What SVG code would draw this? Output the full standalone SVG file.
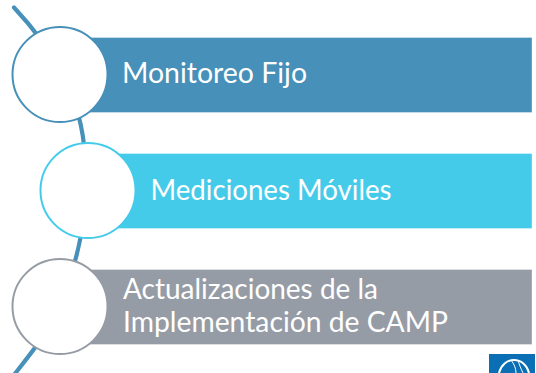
<svg xmlns="http://www.w3.org/2000/svg" width="536" height="373" viewBox="0 0 536 373">
<style>
.bar{stroke-width:1;stroke:#fff;stroke-opacity:.35}
.c{fill:#fff;stroke-width:2}
.t{font-family:"Lato","Liberation Sans",sans-serif;font-size:28.5px;fill:#fff}
.line{fill:none;stroke:#4690b9;stroke-width:4.2;stroke-linecap:round}
</style>
<rect width="536" height="373" fill="#fff"/>
<g id="connectors">
<path class="line" d="M14 7.5C50 46 78 90 84 145C88 190 88 235 60 306C50 330 32 352 14 375"/>
</g>
<g id="node1">
<rect class="bar" x="60" y="37.5" width="472" height="75" fill="#4690b9"/>
<circle class="c" cx="60" cy="74.5" r="47.5" stroke="#4690b9"/>
<text class="t" x="122" y="83" textLength="185" lengthAdjust="spacingAndGlyphs">Monitoreo Fijo</text>
</g>
<g id="node2">
<rect class="bar" x="88" y="153.5" width="444" height="75" fill="#45cbea"/>
<circle class="c" cx="88" cy="190.5" r="47.5" stroke="#45cbea"/>
<text class="t" x="150.500" y="200" textLength="241" lengthAdjust="spacingAndGlyphs">Mediciones Móviles</text>
</g>
<g id="node3">
<rect class="bar" x="60" y="269.5" width="472" height="75" fill="#969ca5"/>
<circle class="c" cx="60" cy="306.500" r="47.500" stroke="#969ca5"/>
<text class="t" x="123" y="299" textLength="255" lengthAdjust="spacingAndGlyphs">Actualizaciones de la</text>
<text class="t" x="123" y="332" textLength="325" lengthAdjust="spacingAndGlyphs">Implementación de CAMP</text>
</g>
<g id="logo">
<rect x="489" y="354" width="46" height="19" fill="#0a6fb5"/>
<path d="M499 373C501 365 507 360 514 360C521 360 527 365 529 373" fill="none" stroke="#fff" stroke-width="2"/>
<path d="M511 360C514 364 516 368 516 373M518 360C519 364 521 369 523 373" fill="none" stroke="#fff" stroke-width="1"/>
</g>
</svg>
